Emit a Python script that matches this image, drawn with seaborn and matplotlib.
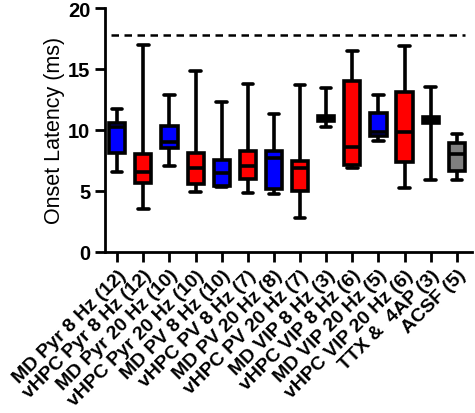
import matplotlib
matplotlib.use("Agg")
import matplotlib.pyplot as plt
import numpy as np
import pandas as pd
import seaborn as sns

GROUPS = [
    "MD Pyr 8 Hz (12)",
    "vHPC Pyr 8 Hz (12)",
    "MD Pyr 20 Hz (10)",
    "vHPC Pyr 20 Hz (10)",
    "MD PV 8 Hz (10)",
    "vHPC PV 8 Hz (7)",
    "MD PV 20 Hz (8)",
    "vHPC PV 20 Hz (7)",
    "MD VIP 8 Hz (3)",
    "vHPC VIP 8 Hz (6)",
    "MD VIP 20 Hz (5)",
    "vHPC VIP 20 Hz (6)",
    "TTX &  4AP (3)",
    "ACSF (5)",
]
MINS = [6.5, 3.5, 7.0, 4.9, 5.3, 4.8, 4.75, 2.75, 10.25, 6.85, 9.1, 5.25, 5.9, 5.85]
Q1S = [8.1, 5.65, 8.5, 5.55, 5.35, 5.95, 5.15, 5.0, 10.7, 7.1, 9.5, 7.35, 10.55, 6.65]
MEDIANS = [10.2, 6.55, 9.0, 6.85, 6.45, 7.05, 7.65, 6.85, 10.9, 8.6, 9.8, 9.8, 10.8, 8.0]
Q3S = [10.55, 8.05, 10.3, 8.1, 7.5, 8.25, 8.25, 7.4, 11.1, 14.05, 11.4, 13.1, 11.05, 8.95]
MAXS = [11.7, 17.0, 12.9, 14.85, 12.3, 13.8, 11.3, 13.7, 13.45, 16.45, 12.9, 16.9, 13.5, 9.65]
COLORS = [
    "#0000ff", "#ff0000", "#0000ff", "#ff0000", "#0000ff", "#ff0000", "#0000ff",
    "#ff0000", "#000000", "#ff0000", "#0000ff", "#ff0000", "#000000", "#808080",
]
THRESHOLD = 17.75


def build_frame() -> pd.DataFrame:
    rows = []
    for g, lo, a, m, b, hi in zip(GROUPS, MINS, Q1S, MEDIANS, Q3S, MAXS):
        for v in (lo, a, m, b, hi):
            rows.append({"group": g, "latency": v})
    return pd.DataFrame(rows)


def main() -> None:
    sns.set_theme(style="ticks")
    plt.rcParams["font.family"] = ["Liberation Sans", "DejaVu Sans"]
    plt.rcParams["text.color"] = "black"
    plt.rcParams["axes.labelcolor"] = "black"
    plt.rcParams["xtick.color"] = "black"
    plt.rcParams["ytick.color"] = "black"
    plt.rcParams["axes.edgecolor"] = "black"
    data = build_frame()

    fig = plt.figure(figsize=(4.75, 4.14), dpi=100)
    ax = fig.add_axes([0.221, 0.39, 0.772, 0.588])
    sns.boxplot(
        data=data, x="group", y="latency", hue="group",
        order=GROUPS, hue_order=GROUPS,
        palette=dict(zip(GROUPS, COLORS)), legend=False,
        whis=(0, 100), width=0.62, linewidth=2.6, linecolor="black",
        fliersize=0, saturation=1, dodge=False, ax=ax,
        capwidths=0.4,
    )
    ax.hlines(THRESHOLD, -0.25, 13.3, colors="black", linestyles=(0, (3, 2.2)), linewidth=1.8)

    ax.set_xlim(-0.47, 13.57)
    ax.set_ylim(0, 20)
    ax.set_yticks([0, 5, 10, 15, 20])
    ax.set_xlabel("")
    ax.set_ylabel("Onset Latency (ms)", fontsize=15.5, labelpad=2)
    for side in ("top", "right"):
        ax.spines[side].set_visible(False)
    for side in ("left", "bottom"):
        ax.spines[side].set_linewidth(2.0)
    ax.tick_params(axis="both", width=2.0, length=7, labelsize=14.5)
    for lab in ax.get_yticklabels():
        lab.set_fontweight("bold")
    ax.set_xticks(range(len(GROUPS)))
    ax.set_xticklabels(GROUPS, rotation=45, ha="right", rotation_mode="anchor",
                       fontsize=14, fontweight="bold")

    fig.savefig("out.png", dpi=100)
    plt.close(fig)


if __name__ == "__main__":
    main()
